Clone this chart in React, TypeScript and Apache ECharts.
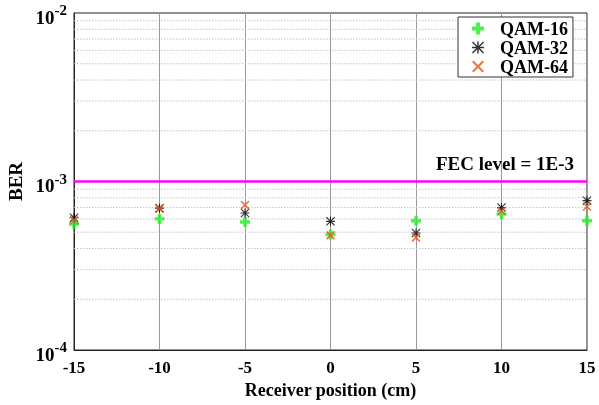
import React, { useEffect, useRef } from "react";
import * as echarts from "echarts";

const positions = [-15, -10, -5, 0, 5, 10, 15];
const qam16 = [5.6e-4, 6.0e-4, 5.75e-4, 4.85e-4, 5.85e-4, 6.4e-4, 5.85e-4];
const qam32 = [6.1e-4, 6.95e-4, 6.5e-4, 5.8e-4, 4.95e-4, 7.0e-4, 7.7e-4];
const qam64 = [5.9e-4, 6.9e-4, 7.25e-4, 4.8e-4, 4.65e-4, 6.7e-4, 7.1e-4];
const fecLevel = 1e-3;
const xRange = [-15, 15];
const minorGrid = [
  2e-4, 3e-4, 4e-4, 5e-4, 6e-4, 7e-4, 8e-4, 9e-4,
  2e-3, 3e-3, 4e-3, 5e-3, 6e-3, 7e-3, 8e-3, 9e-3,
];

const FONT = "Liberation Serif, Times New Roman, serif";

const PLUS = "path://M3.3,0h3.4v3.3h3.3v3.4h-3.3v3.3h-3.4v-3.3h-3.3v-3.4h3.3z";
const XSYM = (t: number) =>
  `path://M0,${t}L${t},0L5,${5 - t}L${10 - t},0L10,${t}L${5 + t},5L10,${10 - t}L${10 - t},10L5,${5 + t}L${t},10L0,${10 - t}L${5 - t},5Z`;
const ASTER =
  "path://M4.4,0h1.2v10h-1.2zM0,4.4h10v1.2h-10z" +
  XSYM(0.85).replace("path://", "");

export default function App() {
  const ref = useRef<HTMLDivElement>(null);
  useEffect(() => {
    if (!ref.current) return;
    const chart = echarts.init(ref.current, null, { renderer: "svg" });
    const mk = (vals: number[]) => positions.map((p, i) => [p, vals[i]]);
    const gridSeries = minorGrid.map((v, i) => ({
      name: "minor" + i,
      type: "line",
      data: xRange.map((x) => [x, v]),
      showSymbol: false,
      silent: true,
      z: 1,
      lineStyle: { color: "#c4c4c4", type: [1.5, 1.5], width: 1 },
    }));
    chart.setOption({
      animation: false,
      textStyle: { fontFamily: FONT },
      grid: {
        left: 74,
        top: 13,
        right: 12,
        bottom: 55,
        containLabel: false,
        outerBoundsMode: "none",
        show: true,
        borderColor: "#222",
        borderWidth: 1,
      },
      legend: {
        orient: "vertical",
        left: 458,
        top: 17,
        padding: [2, 5, 1, 14],
        itemGap: 0,
        itemWidth: 12,
        itemHeight: 12,
        backgroundColor: "#fff",
        borderColor: "#333",
        borderWidth: 1,
        borderRadius: 0,
        data: ["QAM-16", "QAM-32", "QAM-64"],
        textStyle: {
          fontFamily: FONT,
          fontWeight: "bold",
          fontSize: 18,
          color: "#000",
          lineHeight: 19,
          padding: [0, 0, 0, 11],
        },
      },
      xAxis: {
        type: "value",
        min: -15,
        max: 15,
        interval: 5,
        name: "Receiver position (cm)",
        nameLocation: "middle",
        nameGap: 31,
        nameTextStyle: {
          fontFamily: FONT,
          fontWeight: "bold",
          fontSize: 18,
          color: "#000",
        },
        axisLine: { show: true, onZero: false, lineStyle: { color: "#222" } },
        axisTick: { show: false },
        axisLabel: {
          margin: 9,
          fontFamily: FONT,
          fontWeight: "bold",
          fontSize: 17,
          color: "#000",
        },
        splitLine: { show: true, lineStyle: { color: "#999", width: 1 } },
      },
      yAxis: {
        type: "log",
        logBase: 10,
        min: 1e-4,
        max: 1e-2,
        name: "BER",
        nameLocation: "middle",
        nameGap: 48,
        nameRotate: 90,
        nameTextStyle: {
          fontFamily: FONT,
          fontWeight: "bold",
          fontSize: 19,
          color: "#000",
        },
        axisLine: { show: true, onZero: false, lineStyle: { color: "#222" } },
        axisTick: { show: false },
        splitLine: { show: false },
        axisLabel: {
          margin: 7,
          formatter: (v: number) => {
            const e = Math.round(Math.log10(v));
            return `{b|10}{s|${e}}`;
          },
          rich: {
            b: {
              fontFamily: FONT,
              fontWeight: "bold",
              fontSize: 19,
              color: "#000",
              padding: [8, 0, 0, 0],
            },
            s: {
              fontFamily: FONT,
              fontWeight: "bold",
              fontSize: 15,
              color: "#000",
              padding: [0, 0, 6, 0],
            },
          },
        },
      },
      series: [
        ...gridSeries,
        {
          name: "fec",
          type: "line",
          data: xRange.map((x) => [x, fecLevel]),
          showSymbol: false,
          silent: true,
          z: 2,
          lineStyle: { color: "#ff00ff", type: "solid", width: 2.5 },
          endLabel: {
            show: true,
            formatter: "FEC level = 1E-3",
            align: "right",
            verticalAlign: "bottom",
            offset: [-21, -9],
            fontFamily: FONT,
            fontWeight: "bold",
            fontSize: 19,
            color: "#000",
          },
        },
        {
          name: "QAM-16",
          type: "scatter",
          symbol: PLUS,
          symbolSize: 10,
          z: 3,
          itemStyle: { color: "#22ee22" },
          data: mk(qam16),
        },
        {
          name: "QAM-32",
          type: "scatter",
          symbol: ASTER,
          symbolSize: 9,
          z: 3,
          itemStyle: { color: "#000" },
          data: mk(qam32),
        },
        {
          name: "QAM-64",
          type: "scatter",
          symbol: XSYM(1.3),
          symbolSize: 9,
          z: 3,
          itemStyle: { color: "#e8561c" },
          data: mk(qam64),
        },
      ],
    });
    return () => chart.dispose();
  }, []);
  return (
    <div
      ref={ref}
      style={{ position: "fixed", left: 0, top: 0, width: 599, height: 405 }}
    />
  );
}
